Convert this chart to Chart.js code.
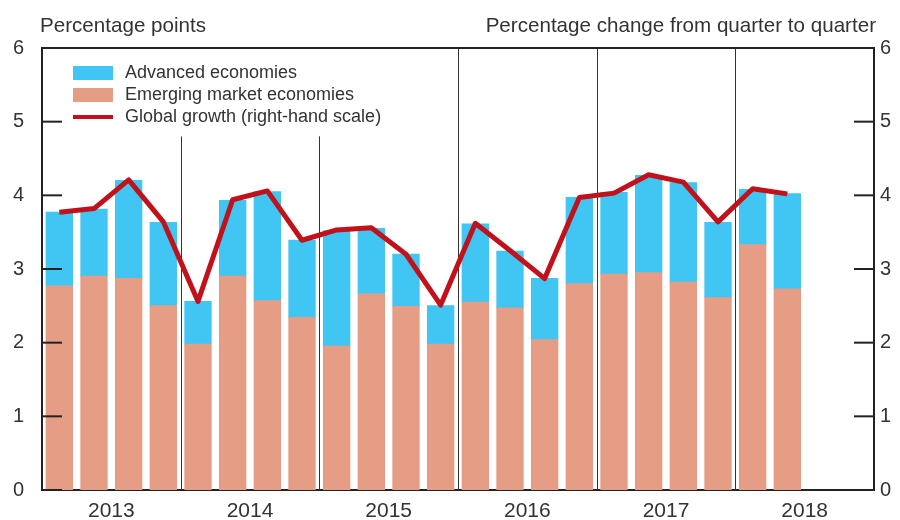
<!DOCTYPE html>
<html>
<head>
<meta charset="utf-8">
<script src="https://cdn.jsdelivr.net/npm/chart.js@4"></script>
<style>
  html, body { margin: 0; padding: 0; background: #fff; }
  #wrap { width: 900px; height: 520px; }
</style>
</head>
<body>
<div id="wrap"><canvas id="chart" width="900" height="520"></canvas></div>
<script>
// data
const years = ['2013', '2014', '2015', '2016', '2017', '2018'];
const quarters = years.flatMap(y => ['Q1', 'Q2', 'Q3', 'Q4'].map(q => y + ' ' + q));
const yTicks = [0, 1, 2, 3, 4, 5, 6];

const emerging = [2.77, 2.90, 2.87, 2.50, 1.98, 2.90, 2.57, 2.34, 1.95, 2.66, 2.49, 1.98,
                  2.55, 2.47, 2.04, 2.80, 2.93, 2.95, 2.82, 2.61, 3.33, 2.73];
const advanced = [1.00, 0.91, 1.33, 1.13, 0.58, 1.03, 1.48, 1.05, 1.57, 0.89, 0.71, 0.52,
                  1.06, 0.77, 0.83, 1.17, 1.11, 1.32, 1.35, 1.02, 0.75, 1.29];
const growth = [3.77, 3.82, 4.21, 3.64, 2.56, 3.94, 4.06, 3.39, 3.53, 3.56, 3.20, 2.51,
                3.62, 3.25, 2.87, 3.97, 4.03, 4.28, 4.18, 3.64, 4.09, 4.02];

const BLUE = '#41c5f2';
const SALMON = '#e59e85';
const RED = '#c1121c';
const INK = '#333333';
const FONT = '"Liberation Sans", Arial, sans-serif';

// titles, legend, year separators, inward ticks
const decor = {
  id: 'decor',
  beforeDatasetsDraw(chart) {
    const { ctx, chartArea: a, scales } = chart;
    ctx.save();
    ctx.strokeStyle = INK;
    ctx.lineWidth = 1;
    for (let i = 1; i < years.length; i++) {
      const x = Math.round((scales.x.getPixelForValue(i * 4 - 1) + scales.x.getPixelForValue(i * 4)) / 2) + 0.5;
      // first two stop below the legend
      const top = i <= 2 ? scales.y.getPixelForValue(4.8) : a.top;
      ctx.beginPath();
      ctx.moveTo(x, top);
      ctx.lineTo(x, a.bottom);
      ctx.stroke();
    }
    ctx.restore();
  },
  afterDatasetsDraw(chart) {
    const { ctx, chartArea: a, scales } = chart;
    ctx.save();
    ctx.strokeStyle = '#222';
    ctx.lineWidth = 2;
    // top frame line
    ctx.beginPath();
    ctx.moveTo(a.left - 1, a.top);
    ctx.lineTo(a.right + 1, a.top);
    ctx.stroke();
    // inward ticks
    yTicks.forEach(v => {
      const y = scales.y.getPixelForValue(v);
      ctx.beginPath(); ctx.moveTo(a.left, y); ctx.lineTo(a.left + 20, y); ctx.stroke();
      const y2 = scales.y2.getPixelForValue(v);
      ctx.beginPath(); ctx.moveTo(a.right - 20, y2); ctx.lineTo(a.right, y2); ctx.stroke();
    });

    // axis titles
    ctx.fillStyle = INK;
    ctx.font = '20.6px ' + FONT;
    ctx.textBaseline = 'alphabetic';
    ctx.textAlign = 'left';
    ctx.fillText('Percentage points', 40, 32);
    ctx.textAlign = 'right';
    ctx.fillText('Percentage change from quarter to quarter', 876, 32);

    // legend
    const ds = chart.data.datasets;
    const items = [ds[1], ds[0], ds[2]];
    ctx.font = '18px ' + FONT;
    ctx.textAlign = 'left';
    ctx.textBaseline = 'middle';
    items.forEach((d, i) => {
      const cy = 73 + i * 22;
      if (d.type === 'line') {
        ctx.fillStyle = d.borderColor;
        ctx.fillRect(73, cy - 2, 40, 4);
      } else {
        ctx.fillStyle = d.backgroundColor;
        ctx.fillRect(73, cy - 7, 40, 14);
      }
      ctx.fillStyle = INK;
      ctx.fillText(d.label, 125, cy);
    });
    ctx.restore();
  }
};

const yAxis = (pos, width, pad) => ({
  type: 'linear',
  position: pos,
  min: 0,
  max: 6,
  stacked: pos === 'left',
  afterBuildTicks: s => { s.ticks = yTicks.map(v => ({ value: v })); },
  afterFit: s => { s.width = width; },
  grid: { display: false, drawTicks: false },
  border: { display: true, color: '#222', width: 2 },
  ticks: { color: INK, padding: pad, font: { size: 20, family: FONT }, align: 'center' }
});

new Chart(document.getElementById('chart'), {
  data: {
    labels: quarters,
    datasets: [
      { type: 'bar', label: 'Emerging market economies', data: emerging, backgroundColor: SALMON,
        yAxisID: 'y', order: 1, barPercentage: 0.76, categoryPercentage: 1, inflateAmount: 0.5 },
      { type: 'bar', label: 'Advanced economies', data: advanced, backgroundColor: BLUE,
        yAxisID: 'y', order: 2, barPercentage: 0.76, categoryPercentage: 1, inflateAmount: 0.5 },
      { type: 'line', label: 'Global growth (right-hand scale)', data: growth, borderColor: RED,
        borderWidth: 5, pointRadius: 0, tension: 0, yAxisID: 'y2', order: 0,
        borderJoinStyle: 'round', borderCapStyle: 'butt' }
    ]
  },
  options: {
    responsive: false,
    animation: false,
    devicePixelRatio: 1,
    layout: { padding: { top: 48, left: 0, right: 0, bottom: 0 } },
    plugins: { legend: { display: false }, tooltip: { enabled: false } },
    scales: {
      x: { type: 'category', display: false, stacked: true, offset: true, grid: { display: false } },
      xYear: {
        type: 'category', labels: years, position: 'bottom', offset: true,
        afterFit: s => { s.height = 27; },
        grid: { display: false, drawTicks: false },
        border: { display: true, color: '#222', width: 2 },
        ticks: { color: INK, padding: 9, maxRotation: 0, autoSkip: false, font: { size: 21, family: FONT } }
      },
      y: yAxis('left', 42, 18),
      y2: yAxis('right', 26, 6)
    }
  },
  plugins: [decor]
});
</script>
</body>
</html>
